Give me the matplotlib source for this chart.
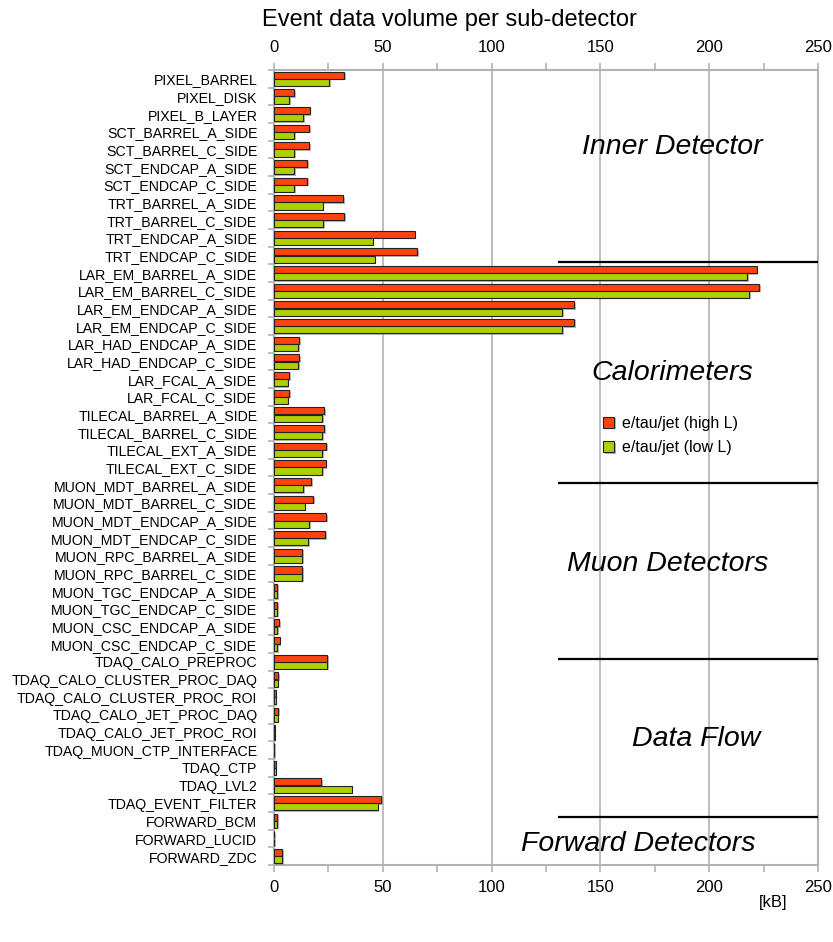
import numpy as np
import matplotlib
matplotlib.use("Agg")
import matplotlib.pyplot as plt
import matplotlib.patheffects as pe
from matplotlib.ticker import MultipleLocator, FixedLocator

plt.rcParams['font.family'] = ['Liberation Sans', 'DejaVu Sans']

# sub-detectors, top to bottom
detectors = [
    "PIXEL_BARREL", "PIXEL_DISK", "PIXEL_B_LAYER",
    "SCT_BARREL_A_SIDE", "SCT_BARREL_C_SIDE", "SCT_ENDCAP_A_SIDE", "SCT_ENDCAP_C_SIDE",
    "TRT_BARREL_A_SIDE", "TRT_BARREL_C_SIDE", "TRT_ENDCAP_A_SIDE", "TRT_ENDCAP_C_SIDE",
    "LAR_EM_BARREL_A_SIDE", "LAR_EM_BARREL_C_SIDE", "LAR_EM_ENDCAP_A_SIDE", "LAR_EM_ENDCAP_C_SIDE",
    "LAR_HAD_ENDCAP_A_SIDE", "LAR_HAD_ENDCAP_C_SIDE", "LAR_FCAL_A_SIDE", "LAR_FCAL_C_SIDE",
    "TILECAL_BARREL_A_SIDE", "TILECAL_BARREL_C_SIDE", "TILECAL_EXT_A_SIDE", "TILECAL_EXT_C_SIDE",
    "MUON_MDT_BARREL_A_SIDE", "MUON_MDT_BARREL_C_SIDE", "MUON_MDT_ENDCAP_A_SIDE", "MUON_MDT_ENDCAP_C_SIDE",
    "MUON_RPC_BARREL_A_SIDE", "MUON_RPC_BARREL_C_SIDE", "MUON_TGC_ENDCAP_A_SIDE", "MUON_TGC_ENDCAP_C_SIDE",
    "MUON_CSC_ENDCAP_A_SIDE", "MUON_CSC_ENDCAP_C_SIDE",
    "TDAQ_CALO_PREPROC", "TDAQ_CALO_CLUSTER_PROC_DAQ", "TDAQ_CALO_CLUSTER_PROC_ROI",
    "TDAQ_CALO_JET_PROC_DAQ", "TDAQ_CALO_JET_PROC_ROI", "TDAQ_MUON_CTP_INTERFACE",
    "TDAQ_CTP", "TDAQ_LVL2", "TDAQ_EVENT_FILTER",
    "FORWARD_BCM", "FORWARD_LUCID", "FORWARD_ZDC",
]

# kB per event
high_L = [32.3, 9.3, 16.5, 16.2, 16.2, 15.3, 15.3, 31.9, 32.3, 64.6, 65.9,
          221.8, 223.0, 138.0, 138.0, 11.6, 11.7, 7.0, 7.1, 23.1, 23.1, 24.0, 23.8,
          17.2, 18.1, 24.0, 23.6, 13.0, 13.0, 1.5, 1.5, 2.5, 2.8,
          24.5, 2.0, 0.8, 2.0, 0.4, 0.2, 0.7, 21.7, 49.3,
          1.5, 0.1, 3.8]
low_L = [25.4, 7.0, 13.5, 9.3, 9.3, 9.3, 9.3, 22.4, 22.7, 45.3, 46.4,
         217.5, 218.4, 132.5, 132.5, 11.2, 11.2, 6.4, 6.4, 22.2, 22.2, 22.2, 22.2,
         13.5, 14.1, 16.2, 15.8, 13.0, 13.0, 1.5, 1.5, 1.5, 1.6,
         24.5, 1.8, 0.8, 1.8, 0.4, 0.2, 0.7, 35.7, 47.6,
         1.5, 0.1, 3.8]

series_names = ["e/tau/jet (high L)", "e/tau/jet (low L)"]

# group labels and separators
groups = ["Inner Detector", "Calorimeters", "Muon Detectors", "Data Flow", "Forward Detectors"]
group_pos = [(182.9, 3.85), (182.9, 16.67), (181.1, 27.44), (193.9, 37.36), (167.3, 43.31)]
separators = [10.37, 22.85, 32.82, 41.78]

RED = "#ff420e"
GREEN = "#aecf00"
GRID = "#b3b3b3"

fig = plt.figure(figsize=(8.33, 9.42), dpi=100)
ax = fig.add_axes([274 / 833, 1 - 865 / 942, 544 / 833, (865 - 70) / 942])

y = np.arange(len(detectors))
h = 0.4
shadow = [pe.SimplePatchShadow(offset=(1, -1), shadow_rgbFace="#888888", alpha=0.6), pe.Normal()]
b1 = ax.barh(y - h / 2, high_L, height=h, color=RED, edgecolor="#222222", linewidth=0.8,
             label=series_names[0], zorder=3)
b2 = ax.barh(y + h / 2, low_L, height=h, color=GREEN, edgecolor="#222222", linewidth=0.8,
             label=series_names[1], zorder=3)
for bar in list(b1) + list(b2):
    bar.set_path_effects(shadow)

ax.set_xlim(0, 250)
ax.set_ylim(len(detectors) - 0.5, -0.5)

ax.set_yticks(y)
ax.set_yticklabels(detectors, fontsize=10.2)
ax.yaxis.set_minor_locator(FixedLocator(np.arange(len(detectors) + 1) - 0.5))
ax.tick_params(axis="y", which="major", length=0, pad=12)
ax.tick_params(axis="y", which="minor", length=4, color=GRID, width=1.2, direction="out")

ax.xaxis.set_major_locator(MultipleLocator(50))
ax.xaxis.set_minor_locator(MultipleLocator(25))
ax.tick_params(axis="x", which="both", top=True, labeltop=True, bottom=True, labelbottom=True,
               length=5, width=1.2, color=GRID, direction="out", labelsize=12, pad=6)

ax.grid(axis="x", which="major", color=GRID, linewidth=1.2, zorder=0)
ax.set_axisbelow(True)
for side in ["left", "top", "bottom", "right"]:
    ax.spines[side].set_color(GRID)
    ax.spines[side].set_linewidth(1.5)

# group separators and labels
for s in separators:
    ax.hlines(s, 130.5, 250, color="black", linewidth=1.6, zorder=4)
for name, (gx, gy) in zip(groups, group_pos):
    ax.text(gx, gy, name, fontsize=20.5, style="italic", ha="center", va="center", zorder=5)

ax.legend(loc="upper left", bbox_to_anchor=(0.605, 0.565), borderaxespad=0, borderpad=0,
          frameon=False, fontsize=11.5,
          handlelength=0.7, handleheight=0.7, handletextpad=0.5, labelspacing=0.6)

fig.text(449 / 833, 1 - 20 / 942, "Event data volume per sub-detector", fontsize=17,
         ha="center", va="center")
fig.text(773 / 833, 1 - 903 / 942, "[kB]", fontsize=12, ha="center", va="center")

fig.savefig("out.png", dpi=100)
